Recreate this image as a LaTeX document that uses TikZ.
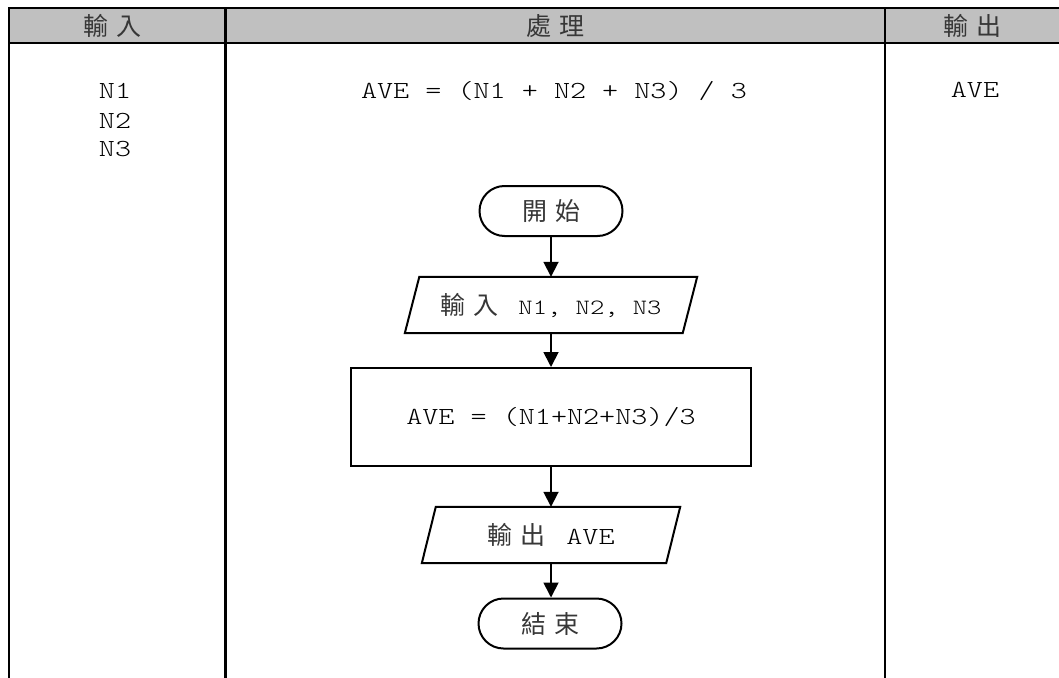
\documentclass[tikz,border=0pt]{standalone}
\usepackage{fontspec}
\newfontfamily\mono{lmmonolt10-regular.otf}[FakeStretch=1.25]
\newfontfamily\cjk{Noto Sans CJK TC}
\usetikzlibrary{arrows.meta}
\definecolor{hdrgray}{RGB}{192,192,192}
\definecolor{inkgray}{RGB}{0,0,0}
\definecolor{cjkgray}{RGB}{55,55,55}
\newcommand\bigmono{\mono\fontsize{24.5}{29}\selectfont}
\newcommand\smallmono{\mono\fontsize{21.8}{27}\selectfont}
\newcommand\cjkf{\cjk\fontsize{25}{30}\selectfont}
\tikzset{
  tline/.style={line width=2.2pt, line cap=rect},
  hdr/.style={font=\cjkf, text=cjkgray, inner sep=0pt},
  mtxt/.style={font=\bigmono, text=inkgray, inner sep=0pt, anchor=base},
  shapeline/.style={line width=2pt, line join=miter},
  term/.style={draw, line width=2pt, rounded corners=25pt, minimum width=143pt, minimum height=50pt, inner sep=0pt, text=cjkgray, font=\cjkf},
  proc/.style={draw, line width=2pt, minimum width=400pt, minimum height=98pt, inner sep=0pt, text=inkgray, font=\bigmono},
  iobox/.style={inner sep=0pt, minimum height=56pt, text=inkgray},
  flow/.style={line width=1.8pt, -{Triangle[width=15pt,length=15pt]}}
}
\begin{document}
\begin{tikzpicture}[x=1pt,y=-1pt]
\useasboundingbox (0,0) rectangle (1059,677);
\fill[white] (0,0) rectangle (1059,677);
% table
\fill[hdrgray] (8.7,8) rectangle (1062,43);
\draw[tline] (8.7,8) -- (1062,8);
\draw[tline] (8.7,43) -- (1062,43);
\draw[tline] (8.7,8) -- (8.7,680);
\draw[tline] (225.5,8) -- (225.5,680);
\draw[tline] (884.7,8) -- (884.7,680);
% headers
\node[hdr] (h1) at (112.5,26) {輸\kern8pt 入};
\node[hdr] (h2) at (555,26) {處\kern8pt 理};
\node[hdr] (h3) at (972,26) {輸\kern8pt 出};
% first row contents
\node[mtxt] (n1) at (115,98.3) {N1};
\node[mtxt] (n2) at (115,128.3) {N2};
\node[mtxt] (n3) at (115,156.8) {N3};
\node[mtxt] (formula) at (554,98.3) {AVE = (N1 + N2 + N3) / 3};
\node[mtxt] (outave) at (975,97.5) {AVE};
% flowchart
\node[term] (start) at (551,211) {開\kern8pt 始};
\node[iobox, minimum width=277.5pt] (in) at (551,305)
  {{\cjkf\color{cjkgray}輸\kern8pt 入}\kern20pt{\smallmono N1, N2, N3}};
\draw[shapeline] ([xshift=7.25pt]in.north west) -- ([xshift=7.25pt]in.north east)
  -- ([xshift=-7.25pt]in.south east) -- ([xshift=-7.25pt]in.south west) -- cycle;
\node[proc] (calc) at (551,417) {AVE = (N1+N2+N3)/3};
\node[iobox, minimum width=244pt] (out) at (551,535)
  {{\cjkf\color{cjkgray}輸\kern8pt 出}\kern21pt{\bigmono AVE}};
\draw[shapeline] ([xshift=7pt]out.north west) -- ([xshift=7pt]out.north east)
  -- ([xshift=-7pt]out.south east) -- ([xshift=-7pt]out.south west) -- cycle;
\node[term] (end) at (550,623.5) {結\kern8pt 束};
% connectors
\draw[flow] (start.south) -- (start.south |- in.north);
\draw[flow] (in.south) -- (in.south |- calc.north);
\draw[flow] (calc.south) -- (calc.south |- out.north);
\draw[flow] (out.south) -- (out.south |- end.north);
\end{tikzpicture}
\end{document}
